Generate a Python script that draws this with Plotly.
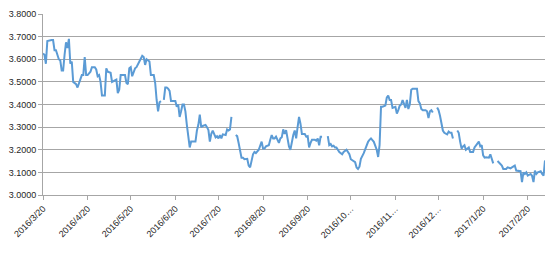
import plotly.graph_objects as go
import pandas as pd

start_date = "2016-03-20"

# day offsets from start_date; None values mark gaps in the series
day_offsets = [
    0, 1, 2, 3, 6, 7, 8, 9, 11, 12, 13, 14, 15, 16, 17, 18, 19, 20, 21, 23, 24, 26, 27, 28, 29, 30, 31, 33, 34,
    36, 37, 38, 39, 40, 41, 43, 44, 45, 47, 48, 50, 51, 52, 53, 54, 57, 58, 59, 60, 61, 62, 63, 64, 65, 66, 67,
    69, 70, 71, 72, 74, 75, 77, 78, 79, 80, 81, 82, 83, 84, 85, 86, 87, 88, 89, 92, 93, 94, 95, 96, 97, 98, 99,
    100, 101, 102, 103, 106, 107, 108, 109, 110, 111, 113, 114, 115, 116, 117, 118, 120, 121, 122, 123, 124,
    125, 127, 128, 129, 130, 131, 132, 134, 135, 136, 137, 138, 139, 140, 142, 143, 144, 145, 146, 147, 148,
    150, 151, 152, 153, 154, 155, 157, 158, 159, 160, 161, 162, 164, 165, 166, 167, 168, 169, 171, 172, 173,
    174, 175, 176, 177, 178, 179, 180, 182, 183, 184, 185, 186, 187, 189, 190, 191, 192, 193, 194, 195, 198,
    199, 200, 201, 202, 203, 204, 205, 206, 208, 209, 211, 212, 213, 214, 216, 217, 218, 219, 220, 221, 223,
    224, 225, 226, 227, 228, 230, 231, 232, 233, 234, 235, 236, 238, 239, 240, 241, 242, 243, 245, 246, 247,
    248, 249, 250, 252, 253, 254, 255, 256, 257, 260, 261, 262, 263, 264, 266, 267, 268, 269, 270, 271, 272,
    274, 275, 276, 277, 278, 279, 281, 282, 283, 284, 285, 286, 288, 289, 290, 291, 292, 293, 294, 296, 297,
    299, 300, 301, 303, 304, 305, 306, 307, 308, 310, 311, 312, 313, 314, 316, 318, 319, 320, 322, 323, 325,
    326, 327, 328, 329, 332, 333, 334, 335, 336, 337, 339, 340, 341, 342, 343, 344, 346, 347, 348, 349,
]

rates = [
    3.625, 3.62, 3.58, 3.68, 3.685, 3.685, 3.64, 3.64, 3.60, 3.595, 3.55, 3.55, 3.62, 3.675, 3.65, 3.69, 3.58,
    3.59, 3.50, 3.49, 3.475, 3.51, 3.53, 3.53, 3.61, 3.53, 3.53, 3.545, 3.565,
    3.565, 3.555, 3.525, 3.53, 3.50, 3.44, 3.44, 3.56, 3.545, 3.54, 3.50, 3.505, 3.51, 3.45, 3.465, 3.53, 3.53,
    3.495, 3.49, 3.56, 3.565, 3.525, 3.545, 3.56, 3.565, 3.575, 3.59,
    3.615, 3.61, 3.575, 3.60, 3.59, 3.53, 3.53, 3.495, 3.42, 3.37, 3.41, 3.415, None, 3.42, 3.475, 3.475, 3.47,
    3.46, 3.415, 3.415, 3.39, 3.40, 3.345, 3.37, 3.40, 3.40, 3.37,
    3.31, 3.25, 3.21, 3.236, 3.236, 3.285, 3.31, 3.355, 3.30, 3.305, 3.31, 3.30, 3.287, 3.236, 3.27, 3.285,
    3.255, 3.26, 3.25, 3.265, 3.25,
    3.268, 3.265, 3.29, 3.285, 3.29, 3.345, None, 3.265, 3.26, 3.23, 3.19, 3.165, 3.165, 3.158, 3.16, 3.13,
    3.122, 3.158, 3.18, 3.19, 3.185,
    3.20, 3.215, 3.236, 3.205, 3.205, 3.215, 3.22, 3.244, 3.265, 3.25, 3.25, 3.258, 3.23, 3.25, 3.255, 3.29,
    3.27, 3.287, 3.215, 3.20, 3.236,
    3.265, 3.285, 3.25, 3.30, 3.345, 3.315, 3.27, 3.27, 3.258, 3.26, 3.21, 3.23, 3.244, 3.244, 3.24, 3.25,
    3.22, 3.258, 3.258, None, 3.26,
    3.22, 3.225, 3.215, 3.218, 3.21, 3.21, 3.20, 3.19, 3.18, 3.19, 3.20, 3.19, 3.18, 3.158, 3.15, 3.145, 3.122,
    3.115, 3.125, 3.16, 3.185,
    3.205, 3.225, 3.235, 3.244, 3.25, 3.235, 3.215, 3.20, 3.168, 3.22, 3.39, 3.39, 3.395, 3.43, 3.44, 3.42,
    3.42, 3.385, 3.39, 3.36, 3.375,
    3.395, 3.40, 3.42, 3.385, 3.42, 3.38, 3.40, 3.465, 3.47, 3.47, 3.415, 3.405, 3.38, 3.375, 3.375, 3.37,
    3.34, 3.37, 3.375, 3.365, None,
    3.387, 3.375, 3.35, 3.315, 3.285, 3.275, 3.268, 3.28, 3.275, 3.275, 3.25, None, 3.285, 3.275, 3.236, 3.205,
    3.215, 3.22, 3.20, 3.21, 3.19,
    3.19, 3.21, 3.22, 3.236, 3.215, 3.22, 3.175, 3.165, 3.167, 3.165, 3.18, 3.158, 3.14, None, 3.15, 3.137,
    3.13, 3.115, 3.115, 3.122, 3.118,
    3.122, 3.125, 3.13, 3.108, 3.105, 3.057, 3.10, 3.093, 3.10, 3.086, 3.093, 3.085, 3.057, 3.108, 3.093, 3.10,
    3.105, 3.093, 3.086, 3.153,
]

tick_dates = ["2016-03-20", "2016-04-20", "2016-05-20", "2016-06-20", "2016-07-20", "2016-08-20",
              "2016-09-20", "2016-10-20", "2016-11-20", "2016-12-20", "2017-01-20", "2017-02-20"]
tick_labels = ["2016/3/20", "2016/4/20", "2016/5/20", "2016/6/20", "2016/7/20", "2016/8/20",
               "2016/9/20", "2016/10…", "2016/11…", "2016/12…", "2017/1/20", "2017/2/20"]

y_ticks = [3.0, 3.1, 3.2, 3.3, 3.4, 3.5, 3.6, 3.7, 3.8]

dates = pd.to_datetime(start_date) + pd.to_timedelta(day_offsets, unit="D")

fig = go.Figure()
fig.add_trace(go.Scatter(
    x=dates, y=rates, mode="lines",
    line=dict(color="#5B9BD5", width=2),
    connectgaps=False, hoverinfo="x+y",
))

grid = "#A6A6A6"
fig.update_layout(
    width=557, height=253,
    margin=dict(l=43, r=12, t=9, b=58),
    paper_bgcolor="white", plot_bgcolor="white",
    showlegend=False,
    font=dict(family="Liberation Sans, Arial, sans-serif", size=9, color="#262626"),
    xaxis=dict(
        type="date",
        range=[pd.to_datetime(start_date), pd.to_datetime(start_date) + pd.Timedelta(days=349)],
        tickvals=pd.to_datetime(tick_dates), ticktext=tick_labels,
        tickangle=-45, showgrid=False, zeroline=False,
        showline=True, linecolor=grid, linewidth=1,
        ticks="outside", ticklen=4, tickcolor=grid,
    ),
    yaxis=dict(
        range=[3.0, 3.8], tickvals=y_ticks, tickformat=".4f",
        showgrid=True, gridcolor=grid, gridwidth=1, zeroline=False,
        showline=True, linecolor=grid, linewidth=1,
        ticks="outside", ticklen=4, tickcolor=grid,
    ),
)

fig.write_html("out.html")
